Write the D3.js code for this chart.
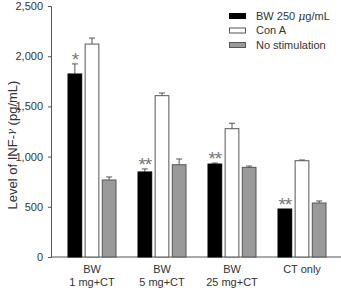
<!DOCTYPE html>
<html><head><meta charset="utf-8">
<script src="https://cdn.jsdelivr.net/npm/d3@7"></script>
<style>body{margin:0;background:#fff}svg{display:block}text{font-family:"Liberation Sans",Arial,sans-serif}</style>
</head><body>
<svg id="c" width="341" height="288"></svg>
<script>
const groups = ["BW|1 mg+CT", "BW|5 mg+CT", "BW|25 mg+CT", "CT only"];
const seriesNames = ["BW 250 μg/mL", "Con A", "No stimulation"];
const bwValues = [1823, 847, 926, 478];
const bwErrors = [100, 30, 10, 0];
const conAValues = [2121, 1607, 1278, 959];
const conAErrors = [60, 26, 54, 7];
const noStimValues = [767, 919, 893, 538];
const noStimErrors = [30, 57, 13, 20];
const marks = ["*", "**", "**", "**"];
const yTicks = [0, 500, 1000, 1500, 2000, 2500];

const fills = ["#000000", "#ffffff", "#9a9a9a"];
const svg = d3.select("#c");
const x0 = d3.scaleBand().domain(groups).range([57, 337]).paddingInner(0).paddingOuter(0);
const x1 = d3.scaleBand().domain([0,1,2]).range([11, 59]).paddingInner(0.2);
const y = d3.scaleLinear().domain([0, 2500]).range([257, 6]);

const series = [
  {vals: bwValues, errs: bwErrors},
  {vals: conAValues, errs: conAErrors},
  {vals: noStimValues, errs: noStimErrors}
];

// y axis
const ya = svg.append("g").attr("transform", "translate(51,0)")
  .call(d3.axisLeft(y).tickValues(yTicks).tickSize(3).tickPadding(5).tickFormat(d3.format(",")));
ya.select(".domain").attr("stroke", "#555");
ya.selectAll(".tick line").attr("stroke", "#555");
ya.selectAll("text").attr("font-size", 11).attr("fill", "#333").attr("font-family", "Liberation Sans, Arial, sans-serif");

// x axis line
svg.append("line").attr("x1", 51).attr("x2", 341).attr("y1", y(0)).attr("y2", y(0)).attr("stroke", "#555");
svg.selectAll(".xt").data(groups).enter().append("line")
  .attr("x1", d => x0(d) + x0.bandwidth()/2).attr("x2", d => x0(d) + x0.bandwidth()/2)
  .attr("y1", y(0)).attr("y2", y(0) - 3).attr("stroke", "#555");

// bars
series.forEach((s, si) => {
  const g = svg.append("g");
  groups.forEach((gname, gi) => {
    const bx = x0(gname) + x1(si);
    const bw = x1.bandwidth();
    const v = s.vals[gi], e = s.errs[gi];
    const cx = bx + bw/2;
    if (e > 0) {
      g.append("line").attr("x1", cx).attr("x2", cx).attr("y1", y(v)).attr("y2", y(v + e)).attr("stroke", "#555");
      g.append("line").attr("x1", cx - 3).attr("x2", cx + 3).attr("y1", y(v + e)).attr("y2", y(v + e)).attr("stroke", "#555");
    }
    g.append("rect").attr("x", bx).attr("y", y(v)).attr("width", bw).attr("height", y(0) - y(v))
      .attr("fill", fills[si]).attr("stroke", si === 0 ? "#000" : "#555").attr("stroke-width", 1);
  });
});

// significance marks
svg.selectAll(".mk").data(groups).enter().append("text")
  .attr("x", (d, i) => x0(d) + x1(0) + x1.bandwidth()/2)
  .attr("y", (d, i) => y(bwValues[i] + bwErrors[i]) + 2)
  .attr("text-anchor", "middle").attr("font-size", 19).attr("fill", "#777")
  .attr("font-family", "Liberation Serif, serif")
  .attr("letter-spacing", "-1px")
  .text((d, i) => marks[i]);

// x labels
groups.forEach(gname => {
  const lines = gname.split("|");
  const t = svg.append("text").attr("text-anchor", "middle").attr("font-size", 11).attr("fill", "#333")
    .attr("x", x0(gname) + x0.bandwidth()/2).attr("y", 273);
  lines.forEach((l, i) => t.append("tspan").attr("x", x0(gname) + x0.bandwidth()/2).attr("dy", i === 0 ? 0 : 13).text(l));
});

// y label
const yl = svg.append("text").attr("transform", "translate(17,145) rotate(-90)")
  .attr("text-anchor", "middle").attr("font-size", 13).attr("fill", "#333");
yl.append("tspan").text("Level of INF-");
yl.append("tspan").attr("font-style", "italic").attr("font-family", "DejaVu Serif, serif").attr("font-size", 10).attr("dy", -3).text("γ");
yl.append("tspan").attr("dy", 3).text(" (pg/mL)");

// legend
const leg = svg.append("g");
seriesNames.forEach((n, i) => {
  const ly = 16 + i * 14.5;
  leg.append("rect").attr("x", 229.5).attr("y", ly - 2.5).attr("width", 16).attr("height", 5)
    .attr("fill", fills[i]).attr("stroke", i === 0 ? "#000" : "#555");
  const t = leg.append("text").attr("x", 256).attr("y", ly).attr("dy", "0.35em").attr("font-size", 11).attr("fill", "#333");
  if (i === 0) {
    t.append("tspan").text("BW 250 ");
    t.append("tspan").attr("font-style", "italic").attr("font-family", "DejaVu Serif, serif").text("μ");
    t.append("tspan").text("g/mL");
  } else t.text(n);
});
</script>
</body></html>
